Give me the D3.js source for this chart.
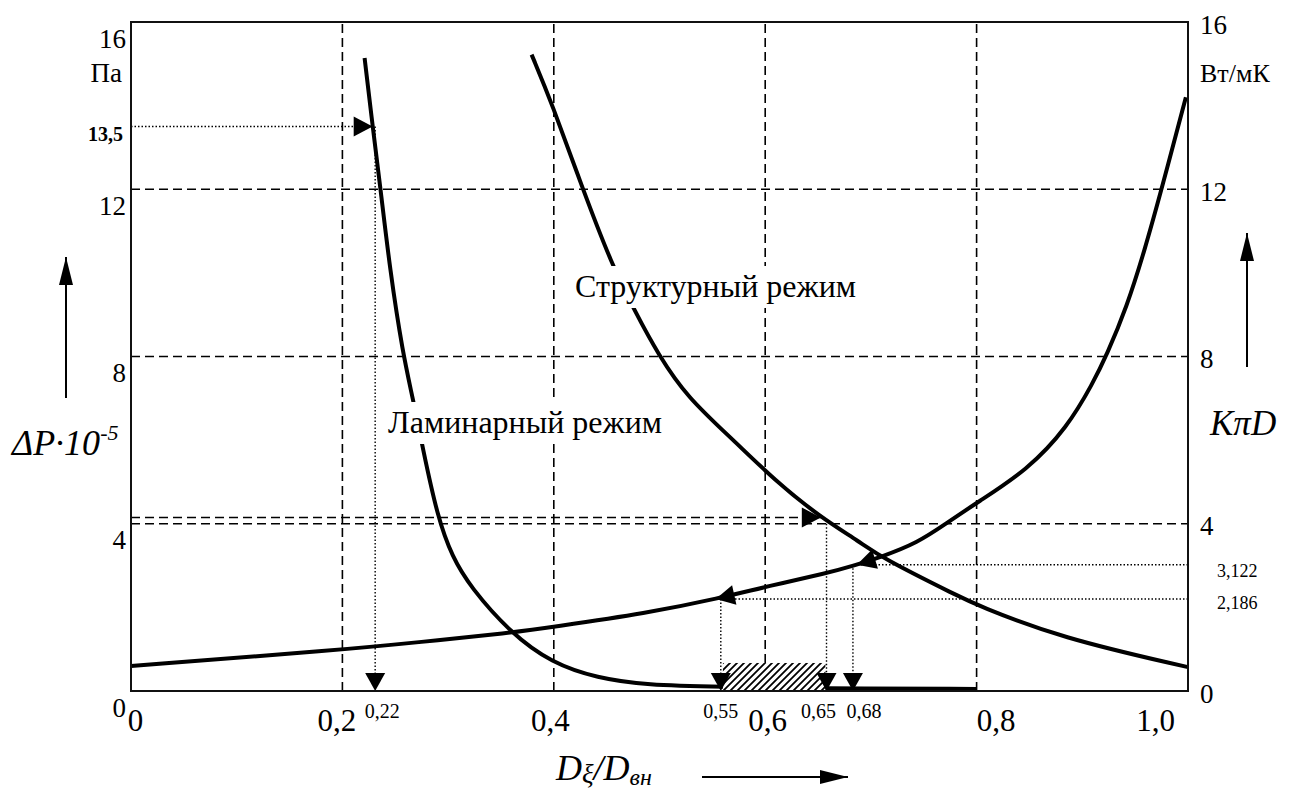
<!DOCTYPE html>
<html lang="ru">
<head>
<meta charset="utf-8">
<title>ΔP и KπD</title>
<script src="https://cdn.jsdelivr.net/npm/d3@7"></script>
<style>
  body { margin: 0; background: #fff; }
  svg { display: block; }
</style>
</head>
<body>
<svg id="chart" width="1292" height="794" font-family="Liberation Serif, Tinos, Times New Roman, Times, Noto Serif, DejaVu Serif, FreeSerif, serif"></svg>
<script>
// Laminar regime: ΔP·10^-5 vs Dξ/Dвн
const laminarX = [0.221, 0.229, 0.236, 0.245, 0.257, 0.267, 0.276, 0.290, 0.304, 0.321, 0.359, 0.398, 0.441, 0.488, 0.557, 0.65, 0.80];
const laminarY = [15.14, 13.42, 12.03, 10.07, 8.09, 6.96, 5.81, 4.16, 3.20, 2.49, 1.39, 0.67, 0.31, 0.14, 0.10, 0.06, 0.05];

// Structural regime
const structuralX = [0.379, 0.398, 0.427, 0.455, 0.477, 0.499, 0.526, 0.570, 0.609, 0.652, 0.690, 0.709, 0.784, 0.800, 0.879, 1.0];
const structuralY = [15.22, 14.07, 12.03, 10.19, 9.07, 8.04, 7.03, 6.00, 5.04, 4.16, 3.56, 3.20, 2.25, 2.06, 1.27, 0.57];

// KπD (right axis)
const risingX = [0, 0.198, 0.273, 0.359, 0.398, 0.488, 0.557, 0.603, 0.659, 0.683, 0.709, 0.744, 0.772, 0.800, 0.848, 0.886, 0.910, 0.923, 0.942, 0.959, 0.975, 0.998];
const risingY = [0.60, 0.98, 1.17, 1.39, 1.53, 1.86, 2.22, 2.51, 2.82, 2.99, 3.20, 3.54, 4.02, 4.50, 5.28, 6.31, 7.36, 8.03, 9.18, 10.54, 12.0, 14.2];

// axes
const xTicks = [0, 0.2, 0.4, 0.6, 0.8, 1.0];
const xTickLabels = ["0", "0,2", "0,4", "0,6", "0,8", "1,0"];
const yTicks = [0, 4, 8, 12, 16];
const yTickLabels = ["0", "4", "8", "12", "16"];
const xGrid = [0.2, 0.4, 0.6, 0.8];
const yGrid = [4, 8, 12];

// read-off lines and points
const readLevels = [13.5, 4.15, 3.02, 2.2];
const readLabels = ["13,5", "3,122", "2,186"];
const dropX = [0.231, 0.558, 0.658, 0.683];
const dropFrom = [13.5, 2.2, 4.0, 3.02];
const dropLabels = ["0,22", "0,55", "0,65", "0,68"];
// hatched zone between 0,55 and 0,65
const hatchX = [0.56, 0.657];
const hatchTop = 0.67;

const svg = d3.select("#chart");
const x = d3.scaleLinear().domain([0, 1]).range([131, 1188]);
const y = d3.scaleLinear().domain([0, 16]).range([691, 22]);

const laminar = d3.zip(laminarX, laminarY);
const structural = d3.zip(structuralX, structuralY);
const rising = d3.zip(risingX, risingY);

// piecewise helpers to find where a level crosses a curve
function curveAt(series, v) {
  return d3.scaleLinear().domain(series.map(d => d[0])).range(series.map(d => d[1]))(v);
}
function crossing(series, level) {
  return d3.scaleLinear().domain(series.map(d => d[1])).range(series.map(d => d[0]))(level);
}

// hatch pattern
const defs = svg.append("defs");
const pat = defs.append("pattern")
  .attr("id", "hatch")
  .attr("patternUnits", "userSpaceOnUse")
  .attr("width", 7)
  .attr("height", 7);
pat.append("rect").attr("width", 7).attr("height", 7).attr("fill", "#fff");
pat.append("path")
  .attr("d", "M-1,1 L1,-1 M0,7 L7,0 M6,8 L8,6")
  .attr("stroke", "#000")
  .attr("stroke-width", 1.8);

// dashed grid
const grid = svg.append("g")
  .attr("stroke", "#000")
  .attr("stroke-width", 1.6)
  .attr("stroke-dasharray", "9,5");
grid.selectAll(".gx").data(xGrid).enter().append("line")
  .attr("x1", d => x(d)).attr("x2", d => x(d))
  .attr("y1", y(0)).attr("y2", y(16));
grid.selectAll(".gy").data(yGrid).enter().append("line")
  .attr("x1", x(0)).attr("x2", x(1))
  .attr("y1", d => y(d)).attr("y2", d => y(d));

// curves
const line = d3.line()
  .x(d => x(d[0]))
  .y(d => y(d[1]))
  .curve(d3.curveBasis);

svg.selectAll(".curve")
  .data([laminar, structural, rising])
  .enter()
  .append("path")
  .attr("class", "curve")
  .attr("d", line)
  .attr("fill", "none")
  .attr("stroke", "#000")
  .attr("stroke-width", 4)
  .attr("stroke-linejoin", "round");

// hatched rectangle
svg.append("rect")
  .attr("x", x(hatchX[0]))
  .attr("y", y(hatchTop))
  .attr("width", x(hatchX[1]) - x(hatchX[0]))
  .attr("height", y(0) - y(hatchTop))
  .attr("fill", "url(#hatch)");

// triangle arrow head; angle 0 = pointing right
function arrowHead(g, px, py, angle, len, half) {
  g.append("path")
    .attr("d", `M0,0 L${-len},${-half} L${-len},${half} Z`)
    .attr("transform", `translate(${px},${py}) rotate(${angle})`)
    .attr("fill", "#000");
}

const refs = svg.append("g");

// horizontal read-off line from an axis to a curve, arrow on the curve
function readLine(series, level, fromX, dash, alongCurve) {
  const cx = crossing(series, level);
  refs.append("line")
    .attr("x1", x(fromX)).attr("x2", x(cx))
    .attr("y1", y(level)).attr("y2", y(level))
    .attr("stroke", "#000")
    .attr("stroke-width", dash === "dashed" ? 1.6 : 1.4)
    .attr("stroke-dasharray", dash === "dashed" ? "9,5" : "1.5,2");
  let angle = fromX < cx ? 0 : 180;
  if (alongCurve) {
    const x1 = x(cx - 0.01), y1 = y(curveAt(series, cx - 0.01));
    const x2 = x(cx + 0.01), y2 = y(curveAt(series, cx + 0.01));
    angle = Math.atan2(y2 - y1, x2 - x1) * 180 / Math.PI + 180;
  }
  arrowHead(refs, x(cx), y(curveAt(series, cx)), angle, 19, 10);
}

readLine(laminar, readLevels[0], 0, "dotted", false);
readLine(structural, readLevels[1], 0, "dashed", false);
readLine(rising, readLevels[2], 1, "dotted", true);
readLine(rising, readLevels[3], 1, "dotted", true);

// vertical drops to the x axis
dropX.forEach((v, i) => {
  refs.append("line")
    .attr("x1", x(v)).attr("x2", x(v))
    .attr("y1", y(dropFrom[i])).attr("y2", y(0) - 10)
    .attr("stroke", "#000")
    .attr("stroke-width", 1.4)
    .attr("stroke-dasharray", "1.5,2");
  arrowHead(refs, x(v), y(0), 90, 18, 10);
});

// regime labels with a white box that breaks lines behind them
function regimeLabel(text, px, py) {
  const g = svg.append("g");
  const rect = g.append("rect").attr("fill", "#fff");
  const t = g.append("text")
    .attr("x", px).attr("y", py)
    .attr("font-size", 32)
    .text(text);
  const b = t.node().getBBox();
  rect.attr("x", b.x - 4).attr("y", b.y - 2)
    .attr("width", b.width + 8).attr("height", b.height + 6);
}
regimeLabel("Ламинарный режим", 388, 433);
regimeLabel("Структурный режим", 575, 297);

// frame
svg.append("rect")
  .attr("x", x(0)).attr("y", y(16))
  .attr("width", x(1) - x(0))
  .attr("height", y(0) - y(16))
  .attr("fill", "none")
  .attr("stroke", "#111")
  .attr("stroke-width", 2);

// axes (labels only, the frame is the axis line)
const xNudge = [4, -6, -4, 2, 19, -33];
const gx = svg.append("g")
  .attr("transform", `translate(0,${y(0)})`)
  .call(d3.axisBottom(x).tickValues(xTicks).tickFormat((d, i) => xTickLabels[i]).tickSize(0));
gx.select(".domain").remove();
gx.attr("font-family", null).attr("font-size", 31);
gx.selectAll("text").attr("y", 40).attr("dy", null).attr("dx", (d, i) => xNudge[i]).attr("fill", "#000");

const gl = svg.append("g")
  .attr("transform", `translate(${x(0)},0)`)
  .call(d3.axisLeft(y).tickValues(yTicks).tickFormat((d, i) => yTickLabels[i]).tickSize(0).tickPadding(5));
gl.select(".domain").remove();
gl.attr("font-family", null).attr("font-size", 27);
gl.selectAll("text").attr("y", 25).attr("dy", null).attr("fill", "#000");

const gr = svg.append("g")
  .attr("transform", `translate(${x(1)},0)`)
  .call(d3.axisRight(y).tickValues(yTicks).tickFormat((d, i) => yTickLabels[i]).tickSize(0).tickPadding(12));
gr.select(".domain").remove();
gr.attr("font-family", null).attr("font-size", 27);
gr.selectAll("text").attr("y", 11).attr("dy", null).attr("fill", "#000");

// units
svg.append("text").attr("x", 122).attr("y", 82).attr("text-anchor", "end").attr("font-size", 27).text("Па");
svg.append("text").attr("x", 1200).attr("y", 82).attr("font-size", 26).text("Вт/мК");

// read-off values
svg.append("text")
  .attr("x", 123).attr("y", y(readLevels[0]) + 14)
  .attr("text-anchor", "end")
  .attr("font-size", 20)
  .attr("font-weight", "bold")
  .text(readLabels[0]);
svg.append("text").attr("x", 1217).attr("y", y(readLevels[2]) + 12).attr("font-size", 18).text(readLabels[1]);
svg.append("text").attr("x", 1217).attr("y", y(readLevels[3]) + 10).attr("font-size", 18).text(readLabels[2]);

const dropNudge = [7, 0, -8, 11];
svg.selectAll(".droplabel")
  .data(dropX)
  .enter()
  .append("text")
  .attr("class", "droplabel")
  .attr("x", (d, i) => x(d) + dropNudge[i])
  .attr("y", 718)
  .attr("text-anchor", "middle")
  .attr("font-size", 20)
  .text((d, i) => dropLabels[i]);

// axis titles
const yTitle = svg.append("text")
  .attr("x", 12).attr("y", 455)
  .attr("font-size", 36)
  .attr("font-style", "italic");
yTitle.append("tspan").text("ΔP·10");
yTitle.append("tspan").attr("font-size", 22).attr("dy", -15).text("-5");

svg.append("text")
  .attr("x", 1210).attr("y", 435)
  .attr("font-size", 35)
  .attr("font-style", "italic")
  .text("KπD");

const xTitle = svg.append("text")
  .attr("x", 556).attr("y", 780)
  .attr("font-size", 36)
  .attr("font-style", "italic");
xTitle.append("tspan").text("D");
xTitle.append("tspan").attr("font-size", 27).attr("dy", 3).text("ξ");
xTitle.append("tspan").attr("dy", -3).text("/D");
xTitle.append("tspan").attr("font-size", 24).attr("dy", 5).text("вн");

// direction arrows next to the titles
const deco = svg.append("g");
function longArrow(x1, y1, x2, y2) {
  deco.append("line")
    .attr("x1", x1).attr("y1", y1).attr("x2", x2).attr("y2", y2)
    .attr("stroke", "#000").attr("stroke-width", 2);
  const ang = Math.atan2(y2 - y1, x2 - x1) * 180 / Math.PI;
  arrowHead(deco, x2, y2, ang, 28, 7);
}
longArrow(66, 398, 66, 257);
longArrow(1247, 367, 1247, 233);
longArrow(702, 777, 848, 777);
</script>
</body>
</html>
